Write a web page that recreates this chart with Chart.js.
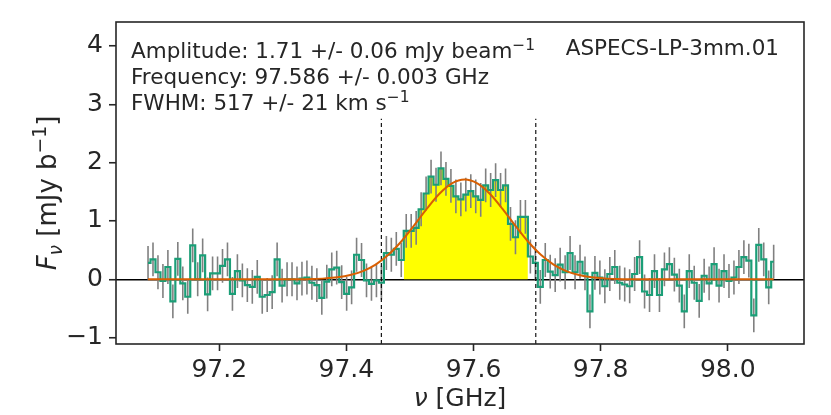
<!DOCTYPE html>
<html>
<head>
<meta charset="utf-8">
<script src="https://cdn.jsdelivr.net/npm/chart.js@4.4.1/dist/chart.umd.min.js"></script>
<style>
  html, body { margin: 0; padding: 0; background: #ffffff; }
  #wrap { width: 831px; height: 415px; }
</style>
</head>
<body>
<div id="wrap"><canvas id="c" width="831" height="415"></canvas></div>
<script>
// ---- channel grid (GHz) ----
const freqStart = 97.0879;
const chanWidth = 0.0078125;

const flux = [
  0.28, 0.34, 0.12, -0.03, 0.21, -0.38, 0.35, -0.07, -0.30, 0.58,
  0.00, 0.41, -0.26, 0.10, 0.10, 0.23, 0.34, -0.25, 0.14, -0.02,
  -0.10, -0.13, 0.04, -0.30, -0.27, -0.22, 0.34, -0.11, 0.00, 0.00,
  -0.07, 0.01, 0.03, -0.06, -0.10, -0.32, -0.04, 0.17, 0.20, -0.05,
  -0.25, -0.14, 0.42, 0.33, -0.02, -0.08, -0.02, -0.06, 0.45, 0.42,
  0.52, 0.33, 0.83, 0.83, 0.88, 1.20, 1.47, 1.76, 1.62, 1.90,
  1.72, 1.60, 1.42, 1.37, 1.45, 1.51, 1.42, 1.36, 1.61, 1.53,
  1.70, 1.53, 1.61, 0.95, 0.72, 1.07, 1.07, 0.39, 0.28, -0.13,
  0.33, 0.13, 0.07, 0.25, 0.12, 0.45, 0.12, 0.30, 0.10, -0.55,
  0.11, 0.03, -0.12, 0.09, 0.21, -0.06, -0.09, -0.12, 0.09, 0.38,
  -0.21, -0.27, 0.14, -0.27, 0.17, 0.26, 0.08, -0.11, -0.55, 0.14,
  -0.06, -0.37, 0.06, -0.07, 0.26, -0.11, 0.14, -0.03, 0.03, 0.21,
  0.38, 0.32, -0.62, 0.59, 0.34, -0.14, 0.30
];
// 1-sigma error per channel (read from the error-bar lengths)
const fluxErr = 0.29;

const fitFreq = [97.0879, 97.226, 97.286, 97.326, 97.346, 97.366, 97.386, 97.406, 97.426, 97.446,
  97.466, 97.486, 97.506, 97.526, 97.546, 97.566, 97.586, 97.606, 97.626, 97.646,
  97.666, 97.686, 97.706, 97.726, 97.746, 97.766, 97.786, 97.806, 97.826, 97.846,
  97.886, 98.0723];
const fitFlux = [0, 0, 0.0003, 0.002, 0.006, 0.015, 0.034, 0.072, 0.140, 0.251,
  0.418, 0.643, 0.914, 1.202, 1.462, 1.644, 1.710, 1.644, 1.462, 1.202,
  0.914, 0.643, 0.418, 0.251, 0.140, 0.072, 0.034, 0.015, 0.006, 0.002,
  0.0003, 0];

// ---- line region (channel indices, filled yellow) and its limits ----
const lineChannels = [52, 76];
const dashedFreq = [97.455, 97.698];
const dashedSpan = [-1.11, 2.75];

// ---- axes ----
const xRange = [97.0375, 98.12];
const yRange = [-1.11, 4.41];
const xTicks = [97.2, 97.4, 97.6, 97.8, 98.0];
const yTicks = [-1, 0, 1, 2, 3, 4];

// ---- texts ----
const sourceName = 'ASPECS-LP-3mm.01';
const fitLines = [
  [{t: 'Amplitude: 1.71 +/- 0.06 mJy beam'}, {t: '\u22121', sup: true}],
  [{t: 'Frequency: 97.586 +/- 0.003 GHz'}],
  [{t: 'FWHM: 517 +/- 21 km s'}, {t: '\u22121', sup: true}]
];

// ---- build datasets from the arrays ----
const freq = flux.map((_, i) => freqStart + i * chanWidth);
const histData = flux.map((v, i) => ({x: freq[i], y: v}));

const errData = [];
flux.forEach((v, i) => {
  errData.push({x: freq[i], y: v - fluxErr});
  errData.push({x: freq[i], y: v + fluxErr});
  errData.push({x: freq[i], y: null});
});

const fillData = [];
fillData.push({x: freq[lineChannels[0]] - chanWidth / 2, y: flux[lineChannels[0]]});
for (let i = lineChannels[0]; i <= lineChannels[1]; i++) fillData.push({x: freq[i], y: flux[i]});
fillData.push({x: freq[lineChannels[1]] + chanWidth / 2, y: flux[lineChannels[1]]});

const dashData = [];
dashedFreq.forEach(f => {
  dashData.push({x: f, y: dashedSpan[0]});
  dashData.push({x: f, y: dashedSpan[1]});
  dashData.push({x: f, y: null});
});

const fitData = fitFreq.map((f, i) => ({x: f, y: fitFlux[i]}));

const TXT = '#262626';
const FONT = '"DejaVu Sans", "Liberation Sans", sans-serif';

function drawRich(ctx, parts, x, y, baseSize, align) {
  const items = parts.map(p => {
    const size = p.sup || p.sub ? baseSize * 0.72 : (p.size || baseSize);
    const font = (p.italic ? 'italic ' : '') + size + 'px ' + FONT;
    ctx.font = font;
    return {t: p.t, font, w: ctx.measureText(p.t).width,
      dy: p.sup ? -baseSize * 0.38 : (p.sub ? baseSize * 0.22 : 0)};
  });
  const total = items.reduce((s, it) => s + it.w, 0);
  let cx = align === 'center' ? x - total / 2 : (align === 'right' ? x - total : x);
  ctx.textAlign = 'left';
  ctx.textBaseline = 'alphabetic';
  items.forEach(it => {
    ctx.font = it.font;
    ctx.fillText(it.t, cx, y + it.dy);
    cx += it.w;
  });
}

const decorations = {
  id: 'decorations',
  afterDraw(chart) {
    const {ctx, chartArea: a} = chart;
    ctx.save();
    ctx.strokeStyle = TXT;
    ctx.lineWidth = 1.6;
    ctx.strokeRect(a.left, a.top, a.right - a.left, a.bottom - a.top);
    ctx.fillStyle = TXT;
    // fit annotation
    fitLines.forEach((parts, k) => {
      drawRich(ctx, parts, a.left + 15, a.top + 36 + k * 26, 21.5, 'left');
    });
    drawRich(ctx, [{t: sourceName}], a.right - 25, a.top + 33, 21.5, 'right');
    // x title
    drawRich(ctx, [{t: '\u03bd', italic: true}, {t: ' [GHz]'}], (a.left + a.right) / 2, 406, 25, 'center');
    // y title
    ctx.save();
    ctx.translate(56, (a.top + a.bottom) / 2 + 10);
    ctx.rotate(-Math.PI / 2);
    drawRich(ctx, [{t: 'F', italic: true}, {t: '\u03bd', sub: true, italic: true},
      {t: ' [mJy b'}, {t: '\u22121', sup: true}, {t: ']'}], 0, 0, 26, 'center');
    ctx.restore();
    ctx.restore();
  }
};

new Chart(document.getElementById('c'), {
  type: 'line',
  data: {
    datasets: [
      {data: fillData, stepped: 'middle', fill: 'origin', backgroundColor: '#ffff00',
        borderWidth: 0, borderColor: 'rgba(0,0,0,0)', pointRadius: 0, order: 5},
      {data: errData, borderColor: '#808080', borderWidth: 1.6, pointRadius: 0,
        spanGaps: false, fill: false, order: 4},
      {data: histData, stepped: 'middle', borderColor: '#1b9e77', borderWidth: 2.2,
        pointRadius: 0, fill: false, order: 3},
      {data: dashData, borderColor: '#000000', borderWidth: 1.1, borderDash: [4, 3],
        pointRadius: 0, spanGaps: false, fill: false, order: 2},
      {data: fitData, borderColor: '#d95f02', borderWidth: 2, pointRadius: 0,
        cubicInterpolationMode: 'monotone', fill: false, order: 1}
    ]
  },
  options: {
    responsive: false,
    animation: false,
    events: [],
    layout: {padding: {top: 22, right: 27, left: 0, bottom: 0}},
    plugins: {legend: {display: false}, tooltip: {enabled: false}},
    scales: {
      x: {
        type: 'linear', min: xRange[0], max: xRange[1],
        afterBuildTicks: s => { s.ticks = xTicks.map(v => ({value: v})); },
        afterFit: s => { s.height = 71; },
        border: {display: false},
        grid: {color: 'rgba(0,0,0,0)', drawTicks: true, tickLength: 7, tickColor: TXT, tickWidth: 1.6},
        ticks: {color: TXT, font: {family: FONT, size: 25}, padding: 4,
          maxRotation: 0, autoSkip: false, callback: v => v.toFixed(1)}
      },
      y: {
        type: 'linear', min: yRange[0], max: yRange[1],
        afterBuildTicks: s => { s.ticks = yTicks.map(v => ({value: v})); },
        afterFit: s => { s.width = 116; },
        border: {display: false},
        grid: {color: ctx => (ctx.tick && ctx.tick.value === 0 ? '#000000' : 'rgba(0,0,0,0)'),
          lineWidth: 1.5, drawTicks: true, tickLength: 7, tickColor: TXT, tickWidth: 1.6},
        ticks: {color: TXT, font: {family: FONT, size: 25}, padding: 6, autoSkip: false,
          callback: v => (v < 0 ? '\u2212' + Math.abs(v) : String(v))}
      }
    }
  },
  plugins: [decorations]
});
</script>
</body>
</html>
